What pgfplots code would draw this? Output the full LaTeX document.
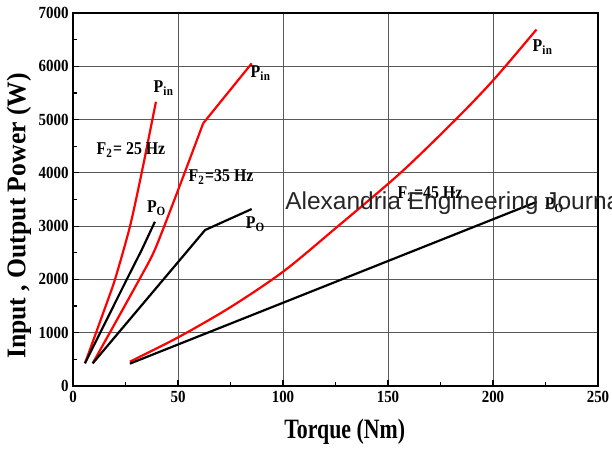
\documentclass[border=0pt]{standalone}
\usepackage{fontspec}
\usepackage{pgfplots}
\pgfplotsset{compat=1.18}
\setmainfont{Liberation Serif}[FakeStretch=0.88]
\newfontfamily\xlabfont{Liberation Serif}[FakeStretch=0.78]
\newfontfamily\ylabfont{Liberation Serif}[FakeStretch=0.95]
\newfontfamily\wmfont{Liberation Sans}
\pgfplotstableread{
T P
5.7 426
14 1330
20 2000
27.1 2990
32.7 4000
39.5 5335
}\pinA
\pgfplotstableread{
T P
5.7 426
25.6 2000
32.7 2552
39 3083
}\poA
\pgfplotstableread{
T P
9.4 426
31.6 2000
39 2560
49.5 3620
62 4930
}\pinB
\pgfplotstableread{
T P
62 4930
85.1 6055
}\pinBb
\pgfplotstableread{
T P
9.4 426
62.9 2927
85.1 3321
}\poB
\pgfplotstableread{
T P
27.1 457
50.1 914
75 1480
100.2 2150
125 2960
155.7 3990
182 4992
200.2 5742
220.7 6690
}\pinC
\pgfplotstableread{
T P
27.1 420
100.2 1565
220.8 3455
}\poC
\begin{document}
\begin{tikzpicture}
\begin{axis}[
  scale only axis, width=525bp, height=373bp,
  xmin=0, xmax=250, ymin=0, ymax=7000,
  xtick={0,50,...,250}, ytick={0,1000,...,7000},
  minor x tick num=1, minor y tick num=1,
  tick pos=left, tick align=inside,
  major tick length=6bp, minor tick length=4bp,
  every tick/.style={black, line width=1.2bp},
  axis line style={line width=2.4bp},
  grid=major, major grid style={black!65, line width=0.9bp},
  /pgf/number format/assume math mode=true,
  /pgf/number format/set thousands separator={},
  tick label style={font=\fontsize{17bp}{17bp}\selectfont\bfseries},
  xticklabel style={yshift=-2bp},
  yticklabel style={xshift=-1bp},
  xlabel={\xlabfont\bfseries Torque (Nm)},
  ylabel={\ylabfont\bfseries Input , Output Power (W)},
  xlabel style={font=\fontsize{28bp}{28bp}\selectfont, at={(axis description cs:0.5175,-0.123)}, anchor=center},
  ylabel style={font=\fontsize{27bp}{27bp}\selectfont, at={(axis description cs:-0.103,0.456)}, anchor=center, rotate=0},
  clip=false,
]
\addplot[red, line width=2.2bp, smooth, tension=0.4] table[x=T,y=P] {\pinA};
\addplot[black, line width=2.2bp] table[x=T,y=P] {\poA};
\addplot[red, line width=2.2bp, smooth, tension=0.4] table[x=T,y=P] {\pinB};
\addplot[red, line width=2.2bp] table[x=T,y=P] {\pinBb};
\addplot[black, line width=2.2bp] table[x=T,y=P] {\poB};
\addplot[red, line width=2.2bp, smooth, tension=0.5] table[x=T,y=P] {\pinC};
\addplot[black, line width=2.2bp] table[x=T,y=P] {\poC};
\begin{scope}[every node/.style={font=\fontsize{18bp}{18bp}\selectfont\bfseries, inner sep=0pt}]
\node at (axis cs:43.3,5592) {P$_{\mathbf{in}}$};
\node at (axis cs:89.5,5874) {P$_{\mathbf{in}}$};
\node at (axis cs:223.8,6361) {P$_{\mathbf{in}}$};
\node at (axis cs:27.6,4429) {F$_{\mathbf{2}}$= 25 Hz};
\node at (axis cs:70.5,3922) {F$_{\mathbf{2}}$=35 Hz};
\node at (axis cs:170,3603) {F$_{\mathbf{2}}$=45 Hz};
\node at (axis cs:40,3340) {P$_{\mathbf{O}}$};
\node at (axis cs:87.1,3040) {P$_{\mathbf{O}}$};
\node at (axis cs:229.5,3396) {P$_{\mathbf{O}}$};
\end{scope}
\node[anchor=base west, inner sep=0pt, text=black!85, font=\wmfont\fontsize{24.5bp}{24.5bp}\selectfont] at (axis cs:101,3303) {Alexandria Engineering Journal};
\end{axis}
\pgfresetboundingbox
\path ([shift={(-73bp,-64bp)}]current axis.south west) rectangle ++(612bp,450bp);
\end{tikzpicture}
\end{document}
